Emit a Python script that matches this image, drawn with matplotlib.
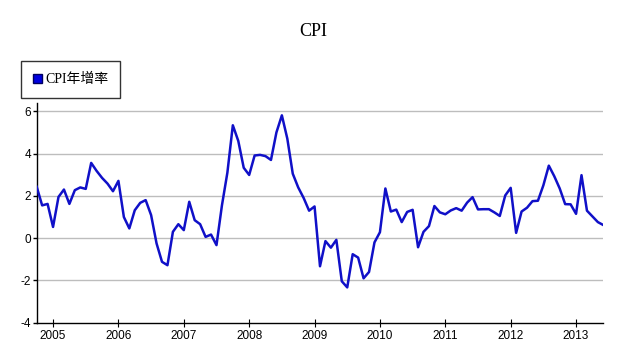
import matplotlib
matplotlib.use("Agg")
import matplotlib.pyplot as plt
import matplotlib.patches as mpatches
import numpy as np
import pandas as pd

plt.rcParams["axes.unicode_minus"] = False

start_month = "2004-10"
cpi_2004 = [2.43, 1.55, 1.62]
cpi_2005 = [0.53, 1.95, 2.30, 1.62, 2.27, 2.40, 2.33, 3.56, 3.18, 2.85, 2.58, 2.22]
cpi_2006 = [2.71, 1.00, 0.46, 1.32, 1.67, 1.80, 1.09, -0.25, -1.12, -1.28, 0.30, 0.66]
cpi_2007 = [0.38, 1.72, 0.85, 0.66, 0.06, 0.17, -0.33, 1.55, 3.10, 5.34, 4.60, 3.33]
cpi_2008 = [2.99, 3.91, 3.94, 3.88, 3.70, 5.00, 5.81, 4.71, 3.05, 2.40, 1.90, 1.30]
cpi_2009 = [1.50, -1.33, -0.14, -0.45, -0.08, -2.04, -2.33, -0.76, -0.92, -1.90, -1.60, -0.20]
cpi_2010 = [0.28, 2.35, 1.26, 1.35, 0.76, 1.24, 1.34, -0.43, 0.30, 0.57, 1.52, 1.22]
cpi_2011 = [1.13, 1.31, 1.42, 1.30, 1.68, 1.94, 1.36, 1.37, 1.37, 1.22, 1.05, 2.02]
cpi_2012 = [2.38, 0.25, 1.26, 1.44, 1.75, 1.77, 2.50, 3.43, 2.93, 2.35, 1.61, 1.60]
cpi_2013 = [1.15, 2.98, 1.30, 1.03, 0.76, 0.62]

year_ticks = [2005, 2006, 2007, 2008, 2009, 2010, 2011, 2012, 2013]
y_ticks = [-4, -2, 0, 2, 4, 6]
title = "CPI"
series_name = "CPI年增率"

values = (cpi_2004 + cpi_2005 + cpi_2006 + cpi_2007 + cpi_2008 + cpi_2009
          + cpi_2010 + cpi_2011 + cpi_2012 + cpi_2013)
dates = pd.date_range(start_month, periods=len(values), freq="MS")
xs = dates.year + (dates.month - 1) / 12.0

W, H = 619, 349
fig = plt.figure(figsize=(W / 100, H / 100), dpi=100)
ax = fig.add_axes([36.7 / W, 1 - 322.7 / H, (603.3 - 36.7) / W, (322.7 - 103.3) / H])

line_color = "#1010c8"
ax.plot(xs, values, color=line_color, lw=1.8, solid_joinstyle="round", zorder=3)

ax.set_xlim(xs[0], xs[-1])
ax.set_ylim(-4, 6.38)
ax.set_yticks(y_ticks)
ax.set_xticks(year_ticks)
ax.set_xticklabels([str(y) for y in year_ticks])

for v in y_ticks:
    if v > y_ticks[0]:
        ax.axhline(v, color="#bdbdbd", lw=1.0, zorder=1)

for s in ["top", "right"]:
    ax.spines[s].set_visible(False)
for s in ["left", "bottom"]:
    ax.spines[s].set_color("black")
    ax.spines[s].set_linewidth(1.0)

ax.tick_params(axis="y", direction="out", length=3, width=1, pad=1,
               labelsize=8.5, colors="black")
ax.tick_params(axis="x", direction="inout", length=6, width=0.8, pad=2,
               labelsize=8.5, colors="black")
for lab in ax.get_xticklabels() + ax.get_yticklabels():
    lab.set_family("Liberation Sans")

fig.text(313 / W, 1 - 32 / H, title, ha="center", va="center",
         fontsize=13, family="Liberation Serif")

handle = mpatches.Patch(facecolor="#0000e0", edgecolor="#000060", label=series_name)
leg = fig.legend(handles=[handle], loc="upper left",
                 bbox_to_anchor=(20.7 / W, 1 - 61.3 / H),
                 frameon=True, fancybox=False, handlelength=0.7, handleheight=0.7,
                 handletextpad=0.2, borderpad=0.85, borderaxespad=0,
                 prop={"family": ["Liberation Serif", "Noto Sans CJK SC"], "size": 10})
leg.get_frame().set_edgecolor("black")
leg.get_frame().set_linewidth(1.0)

fig.savefig("out.png", dpi=100)
